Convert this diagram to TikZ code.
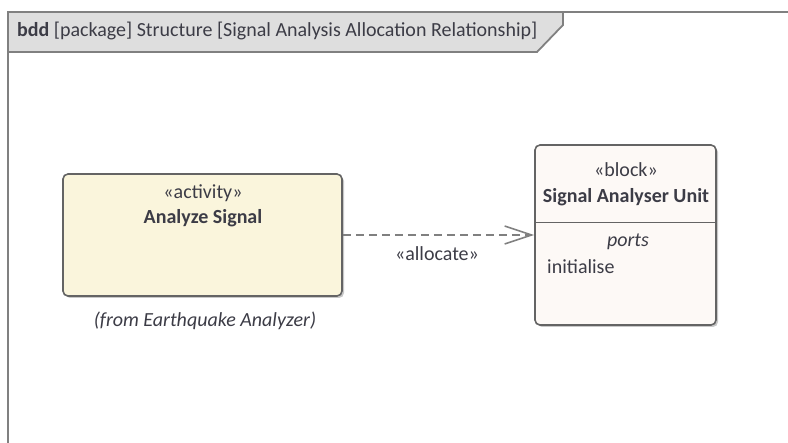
\documentclass[tikz,border=0pt]{standalone}
\usepackage{fontspec}
\setmainfont{Carlito}
\usetikzlibrary{arrows.meta}
\definecolor{framec}{RGB}{128,128,128}
\definecolor{tabfill}{RGB}{222,222,222}
\definecolor{actfill}{RGB}{250,245,220}
\definecolor{blkfill}{RGB}{253,249,246}
\definecolor{edgec}{RGB}{100,100,100}
\definecolor{txt}{RGB}{60,60,70}
\definecolor{shad}{RGB}{200,200,200}
\tikzset{
  elem/.style={draw=edgec, line width=1.6pt, rounded corners=5pt, inner sep=0pt},
  lbl/.style={inner sep=0pt, text=txt, font=\fontsize{20}{24}\selectfont},
  conn/.style={draw=framec, line width=1.6pt, dash pattern=on 8pt off 5pt},
}
\begin{document}
\begin{tikzpicture}[x=1pt, y=-1pt]
\useasboundingbox (0,0) rectangle (788,443);
% frame
\draw[framec, line width=1.8pt, fill=tabfill] (8,52) -- (8,12) -- (563,12) -- (563,25) -- (537,52) -- cycle;
\draw[framec, line width=1.8pt] (563,12) -- (788,12);
\draw[framec, line width=1.8pt] (8,52) -- (8,443);
\node[lbl, anchor=west] (title) at (17,31) {\textbf{bdd} [package] Structure [Signal Analysis Allocation Relationship]};
% shadows
\fill[shad, rounded corners=5pt] (65,176) rectangle (344,298);
\fill[shad, rounded corners=5pt] (537,147) rectangle (718,327);
% activity
\node[elem, fill=actfill, minimum width=279pt, minimum height=122pt] (act) at (202.5,235) {};
\node[lbl] (actst) at (203,193) {«activity»};
\node[lbl, font=\fontsize{20}{24}\selectfont\bfseries] (actname) at (203,218) {Analyze Signal};
\node[lbl, font=\fontsize{20}{24}\selectfont\itshape] (actfrom) at (205,321) {(from Earthquake Analyzer)};
% block
\node[elem, fill=blkfill, minimum width=181pt, minimum height=180pt] (blk) at (625.5,235) {};
\draw[edgec, line width=1.6pt] (535,222.5) -- (716,222.5);
\node[lbl] (blkst) at (626,170) {«block»};
\node[lbl, font=\fontsize{20}{24}\selectfont\bfseries] (blkname) at (626,197) {Signal Analyser Unit};
\node[lbl, font=\fontsize{20}{24}\selectfont\itshape] (ports) at (628,242) {ports};
\node[lbl, anchor=west] (init) at (547,267) {initialise};
% allocate
\draw[conn, -{Straight Barb[length=27pt, width=18pt, line width=1.6pt]}] (act.east) -- (blk.west);
\node[lbl] (alloc) at (437,254) {«allocate»};
\end{tikzpicture}
\end{document}
